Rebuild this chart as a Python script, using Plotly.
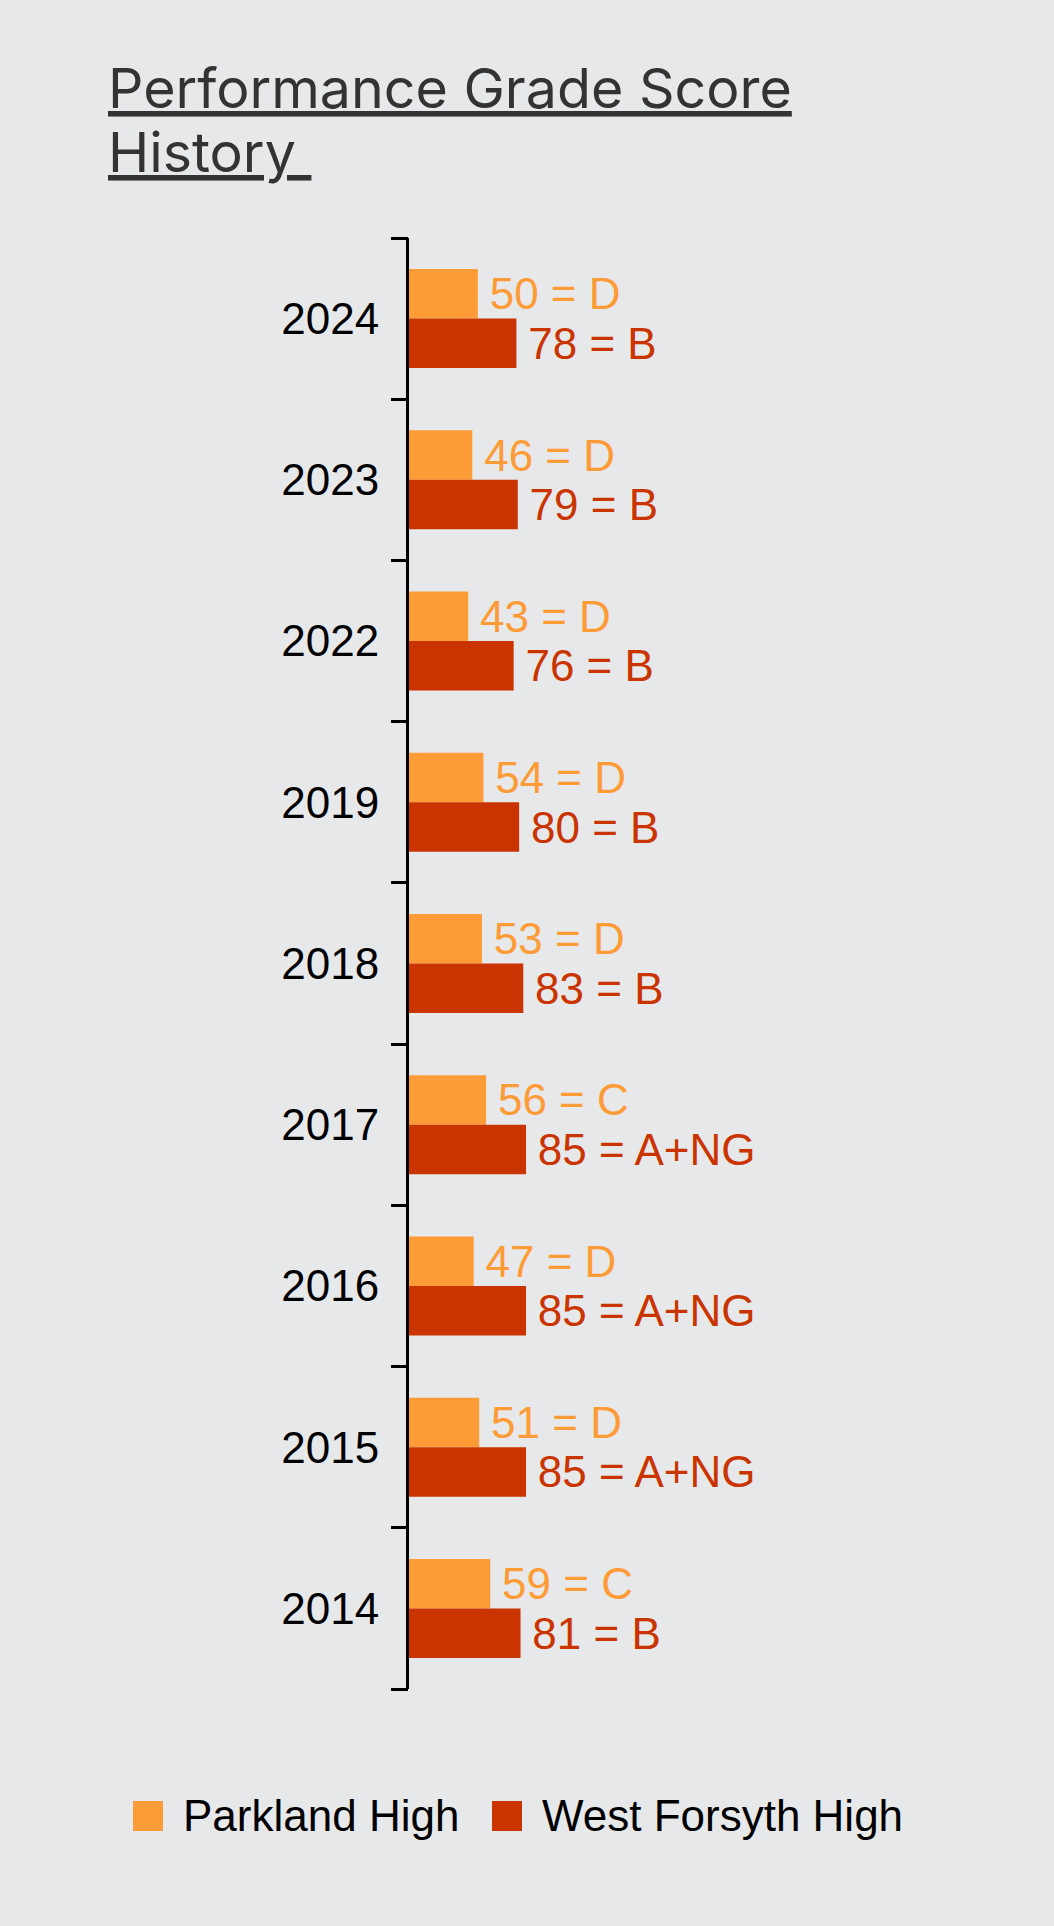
import plotly.graph_objects as go

# ---------------- data ----------------
years = ["2024", "2023", "2022", "2019", "2018", "2017", "2016", "2015", "2014"]
parkland_scores = [50, 46, 43, 54, 53, 56, 47, 51, 59]
parkland_grades = ["D", "D", "D", "D", "D", "C", "D", "D", "C"]
west_forsyth_scores = [78, 79, 76, 80, 83, 85, 85, 85, 81]
west_forsyth_grades = ["B", "B", "B", "B", "B", "A+NG", "A+NG", "A+NG", "B"]
series_names = ["Parkland High", "West Forsyth High"]
title_lines = ["Performance Grade Score", "History"]

# ---------------- style ----------------
W, H = 1054, 1926
L, R, T, B = 409, 54, 238, 237
plot_w = W - L - R
plot_h = H - T - B
PX_PER_UNIT = 1.377
x_max = plot_w / PX_PER_UNIT

ORANGE = "#FD9B37"
RED = "#C93400"
BG = "#E7E8EA"
SANS = "Liberation Sans, Arial, Helvetica, sans-serif"
TITLE_FONT = "Inter, Open Sans, sans-serif"

n_cat = len(years)
boundaries = [i - 0.5 for i in range(n_cat + 1)]


def px_x(px):
    return (px - L) / plot_w


def px_y(py):
    return 1 - (py - T) / plot_h


fig = go.Figure()
for name, scores, grades, color in [
    (series_names[0], parkland_scores, parkland_grades, ORANGE),
    (series_names[1], west_forsyth_scores, west_forsyth_grades, RED),
]:
    fig.add_trace(go.Bar(
        y=years, x=scores, orientation="h", name=name,
        marker=dict(color=color, line=dict(width=0)),
        text=[f"\u2009{s} = {g}" for s, g in zip(scores, grades)],
        textposition="outside", constraintext="none", cliponaxis=False,
        textfont=dict(size=44, color=color, family=SANS),
        showlegend=False, hoverinfo="skip",
    ))

# empty helper trace so the boundary-tick axis (y2) gets drawn
fig.add_trace(go.Scatter(x=[None], y=[None], yaxis="y2", mode="markers",
                         marker=dict(opacity=0), showlegend=False, hoverinfo="skip"))

annotations = [
    dict(text=f"<u>{title_lines[0]}</u>", x=px_x(106), y=px_y(87),
         xref="paper", yref="paper", xanchor="left", yanchor="middle",
         showarrow=False, font=dict(size=55.5, color="#333333", family=TITLE_FONT)),
    dict(text=f"<u>{title_lines[1]}&nbsp;</u>", x=px_x(106), y=px_y(151),
         xref="paper", yref="paper", xanchor="left", yanchor="middle",
         showarrow=False, font=dict(size=55.5, color="#333333", family=TITLE_FONT)),
]
shapes = []
legend_items = [(series_names[0], ORANGE, 133), (series_names[1], RED, 492)]
for name, color, x0 in legend_items:
    shapes.append(dict(type="rect", xref="paper", yref="paper",
                       x0=px_x(x0), x1=px_x(x0 + 30), y0=px_y(1801), y1=px_y(1831),
                       fillcolor=color, line=dict(width=0)))
    annotations.append(dict(text=name, x=px_x(x0 + 48), y=px_y(1816),
                            xref="paper", yref="paper", xanchor="left", yanchor="middle",
                            showarrow=False, font=dict(size=44, color="black", family=SANS)))

fig.update_layout(
    width=W, height=H,
    margin=dict(l=L, r=R, t=T, b=B, pad=0),
    paper_bgcolor=BG, plot_bgcolor=BG,
    barmode="group", bargap=0.386, bargroupgap=0,
    showlegend=False, hovermode=False,
    annotations=annotations, shapes=shapes,
    xaxis=dict(range=[0, x_max], visible=False, fixedrange=True),
    yaxis=dict(type="category", categoryorder="array", categoryarray=years,
               range=[n_cat - 0.5, -0.5],
               showline=True, linecolor="black", linewidth=3,
               ticks="", ticklabelstandoff=18,
               tickfont=dict(size=44, color="black", family=SANS),
               showgrid=False, zeroline=False, fixedrange=True),
    yaxis2=dict(overlaying="y", anchor="x", side="left", type="linear",
                range=[n_cat - 0.5, -0.5],
                tickmode="array", tickvals=boundaries, showticklabels=False,
                ticks="outside", ticklen=17, tickwidth=3, tickcolor="black",
                showline=False, showgrid=False, zeroline=False, fixedrange=True),
)

fig.write_html("out.html", config={"displayModeBar": False},
               post_script="document.body.style.margin='0';")
